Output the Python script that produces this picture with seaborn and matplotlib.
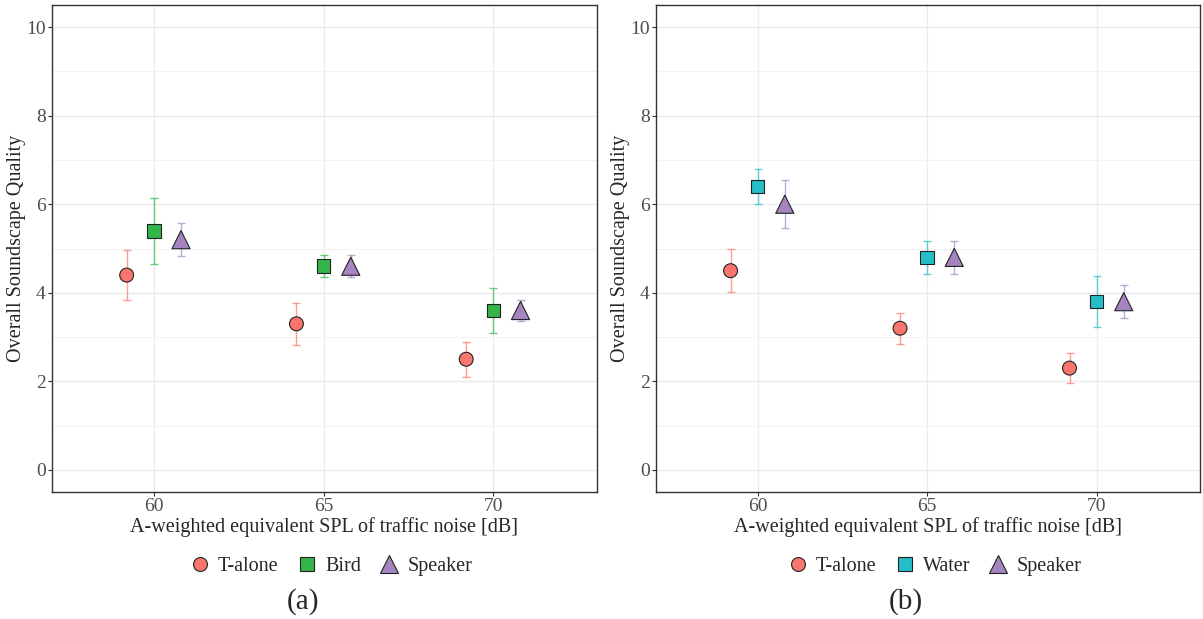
import pandas as pd
import matplotlib.pyplot as plt
import seaborn as sns
from matplotlib.ticker import MultipleLocator

# Traffic noise levels (dB) and conditions
levels = [60, 65, 70]
conds_a = ['T-alone', 'Bird', 'Speaker']
conds_b = ['T-alone', 'Water', 'Speaker']

# Panel (a): means and error half-widths
a_talone = [4.4, 3.3, 2.5]
a_talone_err = [0.57, 0.47, 0.40]
a_bird = [5.4, 4.6, 3.6]
a_bird_err = [0.75, 0.25, 0.50]
a_speaker = [5.2, 4.6, 3.6]
a_speaker_err = [0.37, 0.25, 0.24]

# Panel (b): means and error half-widths
b_talone = [4.5, 3.2, 2.3]
b_talone_err = [0.48, 0.35, 0.34]
b_water = [6.4, 4.8, 3.8]
b_water_err = [0.40, 0.37, 0.57]
b_speaker = [6.0, 4.8, 3.8]
b_speaker_err = [0.54, 0.37, 0.37]

sns.set_style('white')
plt.rcParams['font.family'] = ['Liberation Serif', 'DejaVu Serif']

dodge = {0: -0.8, 1: 0.0, 2: 0.8}
markers = ['o', 's', '^']
msizes = [100, 95, 170]


def build(conds, means, errs):
    rows = []
    for i, c in enumerate(conds):
        for lv, m, e in zip(levels, means[i], errs[i]):
            rows.append({'cond': c, 'level': lv, 'x': lv + dodge[i], 'y': m, 'err': e})
    return pd.DataFrame(rows)


def panel(ax, df, conds, colors):
    for i, c in enumerate(conds):
        d = df[df['cond'] == c]
        ax.errorbar(d['x'], d['y'], yerr=d['err'], fmt='none', ecolor=colors[i],
                    alpha=0.7, elinewidth=1, capsize=3, capthick=1, zorder=2)
    sns.scatterplot(data=df, x='x', y='y', hue='cond', style='cond', size='cond',
                    hue_order=conds, style_order=conds, size_order=conds,
                    palette=colors, markers=dict(zip(conds, markers)),
                    sizes=dict(zip(conds, msizes)),
                    edgecolor='#222222', linewidth=0.8, ax=ax, zorder=3)
    ax.set_xlim(57, 73.05)
    ax.set_ylim(-0.5, 10.5)
    ax.set_xticks(levels)
    ax.yaxis.set_major_locator(MultipleLocator(2))
    ax.yaxis.set_minor_locator(MultipleLocator(1))
    ax.grid(True, which='major', color='#EBEBEB', linewidth=1)
    ax.grid(True, which='minor', axis='y', color='#F2F2F2', linewidth=0.8)
    ax.set_axisbelow(True)
    for s in ax.spines.values():
        s.set_color('#333333')
        s.set_linewidth(1)
    ax.tick_params(axis='both', which='major', labelsize=14, labelcolor='#4D4D4D',
                   length=3, color='#333333', left=True, bottom=True, pad=1.5)
    ax.tick_params(axis='both', which='minor', length=0)
    ax.set_xlabel('A-weighted equivalent SPL of traffic noise [dB]', fontsize=14.5, labelpad=1)
    ax.set_ylabel('Overall Soundscape Quality', fontsize=14.5, labelpad=0)
    leg = ax.legend(loc='upper center', bbox_to_anchor=(0.512, -0.095), ncol=3,
                    frameon=False, fontsize=14.5, handlelength=1.0, handletextpad=0.4,
                    columnspacing=0.9)
    for h in leg.legend_handles:
        h.set_markeredgecolor('#222222')
        h.set_markeredgewidth(0.8)


fig = plt.figure(figsize=(12.03, 6.19), dpi=100)
ax_a = fig.add_axes([0.0432, 0.205, 0.4530, 0.787])
ax_b = fig.add_axes([0.5453, 0.205, 0.4522, 0.787])

df_a = build(conds_a, [a_talone, a_bird, a_speaker], [a_talone_err, a_bird_err, a_speaker_err])
df_b = build(conds_b, [b_talone, b_water, b_speaker], [b_talone_err, b_water_err, b_speaker_err])

panel(ax_a, df_a, conds_a, ['#F8766D', '#33B54A', '#A584C0'])
panel(ax_b, df_b, conds_b, ['#F8766D', '#23BEC6', '#A584C0'])

fig.text(303 / 1203, 1 - 602 / 619, '(a)', ha='center', va='center', fontsize=21)
fig.text(906 / 1203, 1 - 602 / 619, '(b)', ha='center', va='center', fontsize=21)

plt.savefig('out.png', dpi=100)
